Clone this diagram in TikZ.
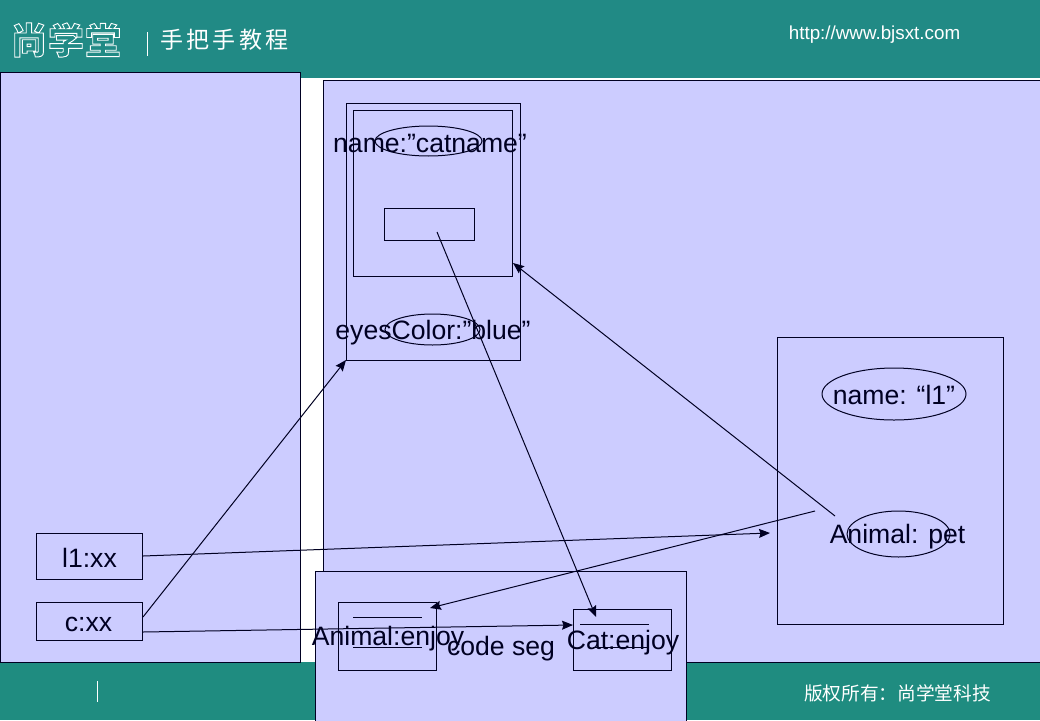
\documentclass[tikz,border=0pt]{standalone}
\usepackage{fontspec}
\setmainfont{Liberation Sans}
\newfontfamily\cjk{Noto Sans CJK SC}
\usetikzlibrary{arrows.meta,shapes.geometric}
\definecolor{tealtop}{HTML}{218A85}
\definecolor{tealbot}{HTML}{1F8C80}
\definecolor{panel}{HTML}{CCCCFF}
\definecolor{ink}{HTML}{000022}
\newcommand{\outl}[1]{\special{pdf:code 1 Tr 0.9 w}#1\special{pdf:code 0 Tr}}
\tikzset{
  x=1pt,y=-1pt,
  panelbox/.style={draw=ink,fill=panel,line width=1pt},
  plainbox/.style={draw=ink,line width=1pt},
  oval/.style={draw=ink,line width=1pt},
  lbl/.style={text=ink,font=\fontsize{26.6}{30}\selectfont,inner sep=0pt},
  conn/.style={draw=ink,line width=1pt,-{Stealth[length=11pt,width=9pt,inset=1.5pt]}},
  stub/.style={draw=ink,line width=1pt},
  wtext/.style={text=white,inner sep=0pt},
}
\begin{document}
\begin{tikzpicture}
\useasboundingbox (0,0) rectangle (1040,720);
\fill[white] (0,0) rectangle (1040,720);
\fill[tealtop] (0,0) rectangle (1040,78);
\fill[tealbot] (0,662) rectangle (1040,720);
% panels
\node[panelbox,anchor=north west,minimum width=300pt,minimum height=590pt,inner sep=0pt] (stack) at (0,72) {};
\node[panelbox,anchor=north west,minimum width=740pt,minimum height=582pt,inner sep=0pt] (heap) at (323,80) {};
% header and footer
\node[wtext,font=\cjk\bfseries\fontsize{36}{36}\selectfont,anchor=center] (logoa) at (29,40) {\outl{尚}};
\node[wtext,font=\cjk\bfseries\fontsize{36}{36}\selectfont,anchor=center] (logob) at (66,40) {\outl{学}};
\node[wtext,font=\cjk\bfseries\fontsize{36}{36}\selectfont,anchor=center] (logoc) at (103,40) {\outl{堂}};
\draw[white,line width=1pt] (147,32) -- (147,56);
\foreach \n/\c/\t in {ta/172/手,tb/198/把,tc/224/手,td/251/教,te/277/程}
  \node[wtext,font=\cjk\fontsize{23}{23}\selectfont] (\n) at (\c,39.5) {\t};
\node[wtext,font=\fontsize{18.8}{20}\selectfont] (url) at (874.5,34.5) {http://www.bjsxt.com};
\draw[white,line width=1pt] (97,681) -- (97,702);
\node[wtext,font=\cjk\fontsize{18.7}{20}\selectfont] (copy) at (897.5,693.5) {版权所有：尚学堂科技};
% stack boxes
\node[panelbox,anchor=north west,minimum width=106pt,minimum height=45.5pt,inner sep=0pt] (l1) at (36,533) {};
\node[lbl] at (89.5,558) {l1:xx};
\node[panelbox,anchor=north west,minimum width=106pt,minimum height=37.5pt,inner sep=0pt] (c) at (36,602) {};
\node[lbl] at (88.5,624) {c:xx};
% cat object
\node[plainbox,anchor=north west,minimum width=174pt,minimum height=256.5pt,inner sep=0pt] (cat) at (346,103) {};
\node[plainbox,anchor=north west,minimum width=159pt,minimum height=165.5pt,inner sep=0pt] (super) at (353,110) {};
\node[plainbox,anchor=north west,minimum width=90pt,minimum height=31.5pt,inner sep=0pt] (ref) at (384,208) {};
\node[oval,ellipse,minimum width=107pt,minimum height=30pt,inner sep=0pt] (catname) at (428.5,141) {};
\node[lbl] at (430,143) {name:”catname”};
\node[oval,ellipse,minimum width=95pt,minimum height=31pt,inner sep=0pt] (eyes) at (432.5,329.5) {};
\node[lbl] at (433,332.5) {eyesColor:”blue”};
% l1 object
\node[plainbox,anchor=north west,minimum width=225.5pt,minimum height=286.5pt,inner sep=0pt] (animal) at (777,337) {};
\node[oval,ellipse,minimum width=144pt,minimum height=52pt,inner sep=0pt] (l1name) at (894,394) {};
\node[lbl] at (894,394.5) {name: “l1”};
\node[oval,ellipse,minimum width=103pt,minimum height=46pt,inner sep=0pt] (pet) at (898.5,534) {};
\node[lbl] at (897.5,537) {Animal: pet};
% code seg
\node[panelbox,anchor=north west,minimum width=371pt,minimum height=160pt,inner sep=0pt] (code) at (315,571) {};
\node[plainbox,anchor=north west,minimum width=98pt,minimum height=67.5pt,inner sep=0pt] (aenjoy) at (338,602) {};
\node[plainbox,anchor=north west,minimum width=98pt,minimum height=60.5pt,inner sep=0pt] (cenjoy) at (573,609) {};
\coordinate (ala) at (353,617.5); \coordinate (alb) at (422,617.5);
\coordinate (alc) at (353,647); \coordinate (ald) at (422,647);
\coordinate (cla) at (580,624); \coordinate (clb) at (649,624);
\coordinate (clc) at (593,647); \coordinate (cld) at (649,647);
\draw[stub] (ala) -- (alb);
\draw[stub] (alc) -- (ald);
\draw[stub] (cla) -- (clb);
\draw[stub] (clc) -- (cld);
\node[lbl] at (388,639) {Animal:enjoy};
\node[lbl] at (501,649) {code seg};
\node[lbl] at (623,642.5) {Cat:enjoy};
% connectors
\coordinate (l1out) at (143,556);
\coordinate (petin) at (770,533);
\coordinate (cout) at (143,617);
\coordinate (catcorner) at (346,360);
\coordinate (cout2) at (143,632);
\coordinate (cenjoyin) at (573,625);
\coordinate (petout) at (815,511);
\coordinate (aenjoyin) at (430,608);
\coordinate (petout2) at (835,516);
\coordinate (superin) at (513,263);
\coordinate (refout) at (437,232);
\coordinate (cenjoytop) at (596,617);
\draw[conn] (l1out) -- (petin);
\draw[conn] (cout) -- (catcorner);
\draw[conn] (cout2) -- (cenjoyin);
\draw[conn] (petout) -- (aenjoyin);
\draw[conn] (petout2) -- (superin);
\draw[conn] (refout) -- (cenjoytop);
\end{tikzpicture}
\end{document}
